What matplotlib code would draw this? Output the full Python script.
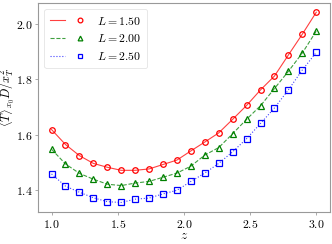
import numpy as np
import matplotlib
matplotlib.use("Agg")
import matplotlib.pyplot as plt
from matplotlib.legend_handler import HandlerTuple

plt.rcParams['font.family'] = 'serif'
plt.rcParams['font.serif'] = ['cmr10', 'DejaVu Serif']
plt.rcParams['mathtext.fontset'] = 'cm'
plt.rcParams['axes.formatter.use_mathtext'] = True
plt.rcParams['axes.unicode_minus'] = False

z = np.linspace(1.0, 3.0, 20)
L_values = ["1.50", "2.00", "2.50"]
T_L150 = [1.619, 1.565, 1.525, 1.497, 1.483, 1.472, 1.472, 1.477, 1.493, 1.509,
          1.542, 1.574, 1.607, 1.656, 1.706, 1.762, 1.812, 1.888, 1.963, 2.042]
T_L200 = [1.548, 1.495, 1.461, 1.440, 1.422, 1.417, 1.426, 1.432, 1.447, 1.462,
          1.487, 1.527, 1.554, 1.604, 1.656, 1.705, 1.767, 1.829, 1.895, 1.974]
T_L250 = [1.459, 1.415, 1.393, 1.373, 1.359, 1.356, 1.368, 1.372, 1.387, 1.400,
          1.432, 1.462, 1.497, 1.539, 1.586, 1.641, 1.697, 1.762, 1.834, 1.897]

series = [T_L150, T_L200, T_L250]
colors = ['red', 'green', 'blue']
linestyles = ['-', '--', ':']
markers = ['o', '^', 's']

fig = plt.figure(figsize=(3.32, 2.44), dpi=100)
ax = fig.add_axes([0.1154, 0.1311, 0.8771, 0.8578])

handles = []
labels = []
for vals, c, ls, m, L in zip(series, colors, linestyles, markers, L_values):
    ln, = ax.plot(z, vals, color=c, ls=ls, lw=0.8, alpha=0.75)
    mk, = ax.plot(z, vals, ls='none', marker=m, mfc='none', mec=c, ms=4, mew=0.9)
    handles.append((ln, mk))
    labels.append(r'$L = %s$' % L)

ax.set_xticks([1.0, 1.5, 2.0, 2.5, 3.0])
ax.set_yticks([1.4, 1.6, 1.8, 2.0])
ax.tick_params(labelsize=8.5, length=2, width=0.5, color='#888888', pad=2)
for s in ax.spines.values():
    s.set_color('#999999')
    s.set_linewidth(0.8)

ax.set_xlabel(r'$z$', fontsize=9.5, labelpad=0)
ax.set_ylabel(r'$\langle T\rangle_{x_0} D/x_T^2$', fontsize=8.8)
ax.yaxis.set_label_coords(-0.072, 0.55)

leg = ax.legend(handles, labels, handler_map={tuple: HandlerTuple(ndivide=None, pad=0.6)},
                loc='upper left', fontsize=8.5, frameon=True, handlelength=3.2,
                markerscale=0.85, borderpad=0.5, labelspacing=0.5, handletextpad=0.8)
leg.get_frame().set_edgecolor('#dddddd')
leg.get_frame().set_linewidth(0.6)

fig.savefig('out.png', dpi=100)
